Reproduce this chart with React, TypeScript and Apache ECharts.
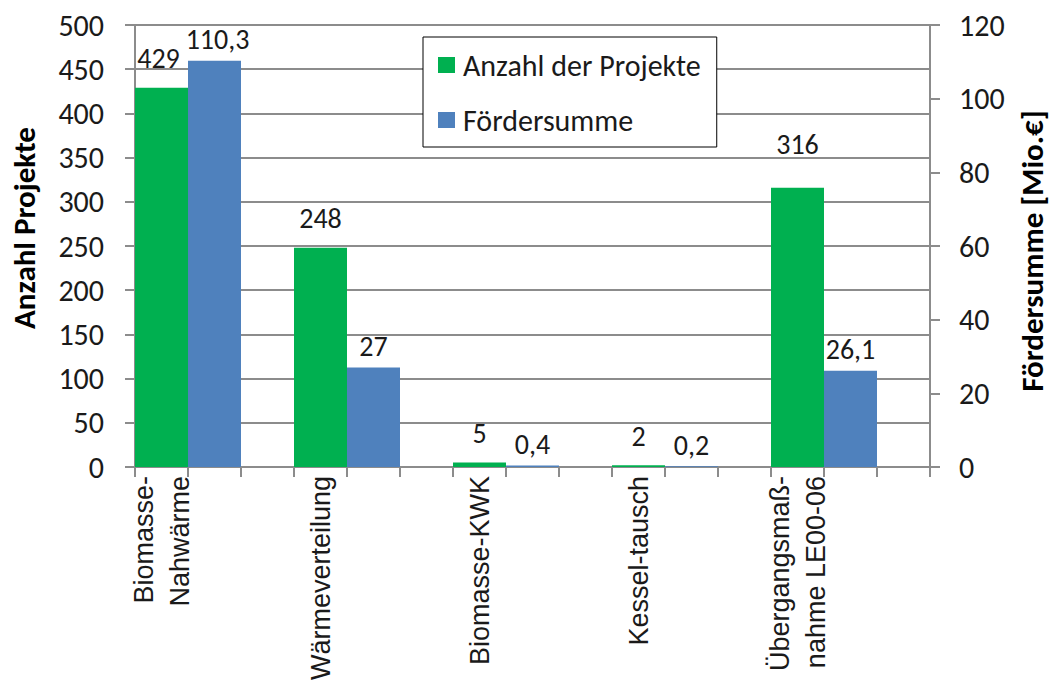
import React, { useEffect, useRef } from "react";
import * as echarts from "echarts";

const categories = [
  "Biomasse-\nNahwärme",
  "Wärmeverteilung",
  "Biomasse-KWK",
  "Kessel-tausch",
  "Übergangsmaß-\nnahme LE00-06",
];
const anzahlProjekte = [429, 248, 5, 2, 316];
const foerdersumme = [110.3, 27, 0.4, 0.2, 26.1];
const seriesNames = ["Anzahl der Projekte", "Fördersumme"];
const leftAxis = { min: 0, max: 500, interval: 50 };
const rightAxis = { min: 0, max: 120, interval: 20 };

const GREEN = "#00B050";
const BLUE = "#4F81BD";
const NUM_FONT = "Carlito, Lato, 'Open Sans', sans-serif";
const CAT_FONT = "'Liberation Sans', Arial, sans-serif";

const fmt = (v: number) => String(v).replace(".", ",");

export default function App() {
  const ref = useRef<HTMLDivElement>(null);
  useEffect(() => {
    if (!ref.current) return;
    const chart = echarts.init(ref.current, null, { renderer: "svg" });
    // three slots per category: green, blue, empty
    const slots = categories.flatMap((c) => [c, "", ""]);
    const greenData = anzahlProjekte.flatMap((v, i) => [
      i === 4 ? { value: v, label: { offset: [0, -14] } } : i === 0 ? { value: v, label: { offset: [-3, 0] } } : v,
      null,
      null,
    ]);
    const blueData = foerdersumme.flatMap((v, i) => [
      null,
      i === 0 ? { value: v, label: { offset: [3, 0] } } : v,
      null,
    ]);
    const labelCommon = {
      show: true,
      position: "top",
      fontFamily: NUM_FONT,
      fontSize: 28,
      color: "#1a1a1a",
      formatter: (p: any) => fmt(p.value),
    };
    chart.setOption({
      animation: false,
      grid: {
        left: 135,
        right: 122,
        top: 25,
        bottom: 226,
        containLabel: false,
        outerBoundsMode: "none",
      },
      legend: {
        orient: "vertical",
        left: 423,
        top: 37,
        padding: [13, 16, 12, 15],
        itemGap: 25,
        itemWidth: 17,
        itemHeight: 16,
        borderColor: "#000",
        borderWidth: 1,
        backgroundColor: "#fff",
        icon: "rect",
        textStyle: { fontFamily: NUM_FONT, fontSize: 30, color: "#1a1a1a", padding: [0, 0, 0, 3] },
        data: seriesNames,
      },
      xAxis: {
        type: "category",
        data: slots,
        boundaryGap: true,
        axisLine: { lineStyle: { color: "#8c8c8c", width: 2 } },
        axisTick: { show: true, interval: 0, length: 10, lineStyle: { color: "#8c8c8c", width: 2 } },
        axisLabel: {
          interval: 0,
          rotate: 90,
          margin: 9,
          fontFamily: CAT_FONT,
          fontSize: 27,
          lineHeight: 36,
          color: "#1a1a1a",
        },
      },
      yAxis: [
        {
          type: "value",
          ...leftAxis,
          name: "Anzahl Projekte",
          nameLocation: "middle",
          nameRotate: 90,
          nameGap: 96,
          nameTextStyle: {
            fontFamily: NUM_FONT,
            fontSize: 31,
            fontWeight: "bold",
            color: "#000",
            padding: [0, 0, 0, 36],
          },
          axisLine: { show: true, lineStyle: { color: "#8c8c8c", width: 2 } },
          axisTick: { show: true, length: 10, lineStyle: { color: "#8c8c8c", width: 2 } },
          axisLabel: { margin: 31, fontFamily: NUM_FONT, fontSize: 30, color: "#1a1a1a" },
          splitLine: { show: true, lineStyle: { color: "#8c8c8c", width: 2 } },
        },
        {
          type: "value",
          ...rightAxis,
          position: "right",
          name: "Fördersumme [Mio.€]",
          nameLocation: "middle",
          nameRotate: 90,
          nameGap: 86,
          nameTextStyle: {
            fontFamily: NUM_FONT,
            fontSize: 31,
            fontWeight: "bold",
            color: "#000",
            padding: [0, 10, 0, 0],
          },
          axisLine: { show: true, lineStyle: { color: "#8c8c8c", width: 2 } },
          axisTick: { show: true, length: 10, lineStyle: { color: "#8c8c8c", width: 2 } },
          axisLabel: { margin: 29, fontFamily: NUM_FONT, fontSize: 30, color: "#1a1a1a" },
          splitLine: { show: false },
        },
      ],
      series: [
        {
          name: seriesNames[0],
          type: "bar",
          yAxisIndex: 0,
          data: greenData,
          barGap: "-100%",
          barCategoryGap: "0%",
          itemStyle: { color: GREEN },
          label: { ...labelCommon, distance: 15 },
        },
        {
          name: seriesNames[1],
          type: "bar",
          yAxisIndex: 1,
          data: blueData,
          barGap: "-100%",
          barCategoryGap: "0%",
          itemStyle: { color: BLUE },
          label: { ...labelCommon, distance: 7 },
        },
      ],
    });
    return () => chart.dispose();
  }, []);
  return (
    <div
      ref={ref}
      style={{ position: "fixed", left: 0, top: 0, width: 1052, height: 693, background: "#fff" }}
    />
  );
}
